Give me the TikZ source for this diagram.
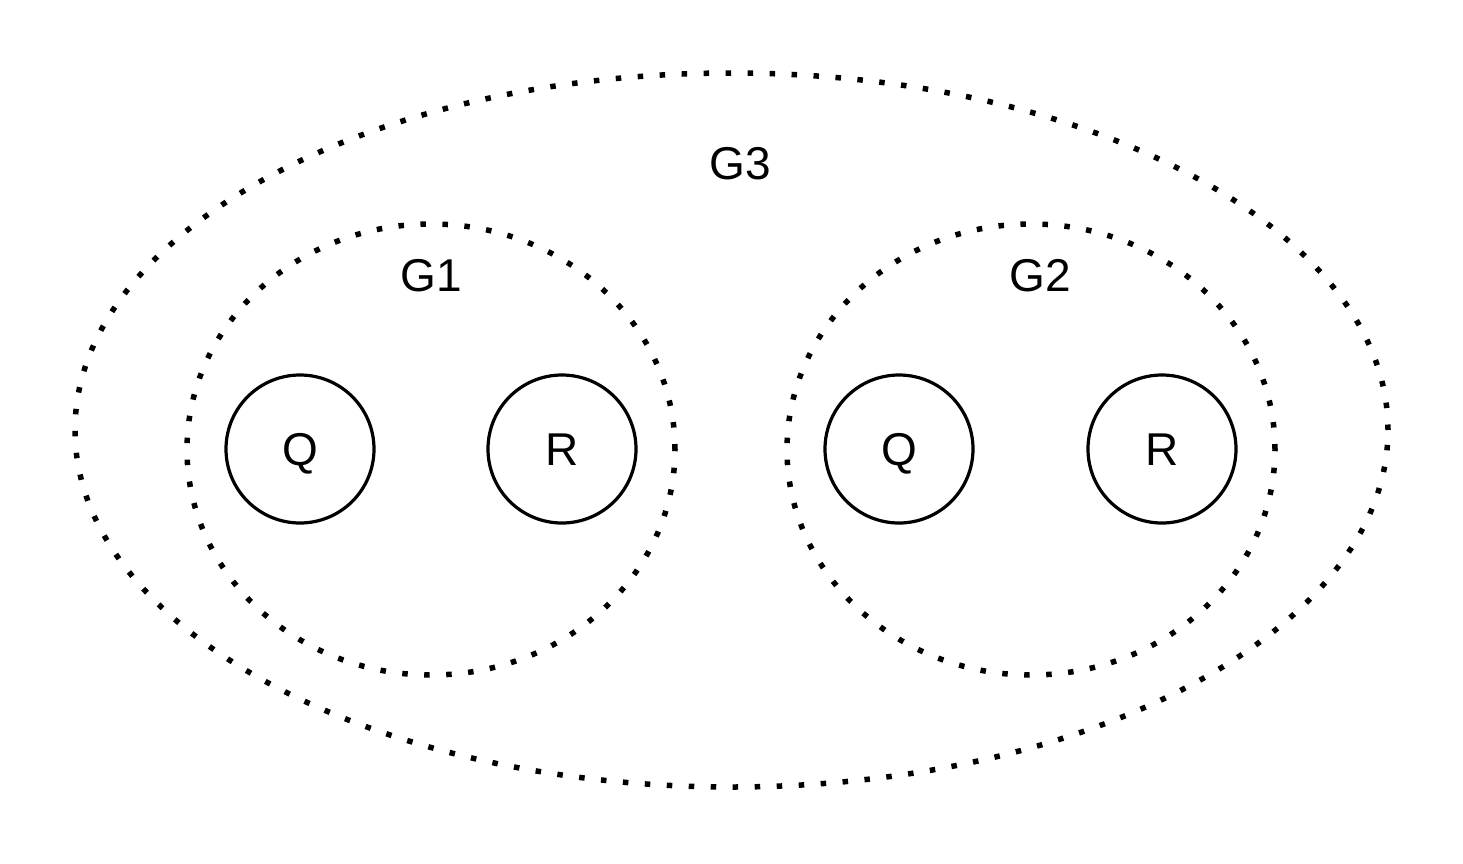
\documentclass[tikz,border=0pt]{standalone}
\usepackage{fontspec}
\setmainfont{Liberation Sans}
\usetikzlibrary{shapes.geometric}
\begin{document}
\begin{tikzpicture}[x=0.5pt,y=-0.5pt,
  grp/.style={draw, ellipse, inner sep=0pt, line width=2.75pt, line cap=butt, dash pattern=on 2.75pt off 8.25pt},
  st/.style={draw, circle, line width=1.6pt, minimum size=74pt, inner sep=0pt, text height=16.5pt, text depth=0pt, font=\fontsize{23}{27}\selectfont},
  lbl/.style={font=\fontsize{23}{27}\selectfont, inner sep=0pt, text height=16.5pt, text depth=0pt}]
\useasboundingbox (0,0) rectangle (1463,863);
\node[grp, minimum width=656.5pt, minimum height=357pt] (G3) at (731.5,430) {};
\node[grp, minimum width=244pt, minimum height=225.5pt] (G1) at (431,449.5) {};
\node[grp, minimum width=244pt, minimum height=225.5pt] (G2) at (1031,449.5) {};
\node[lbl] (l3) at (740,163) {G3};
\node[lbl] (l1) at (431,275) {G1};
\node[lbl] (l2) at (1040,275) {G2};
\node[st] (q1) at (300,449) {Q};
\node[st] (r1) at (562,449) {R};
\node[st] (q2) at (899,449) {Q};
\node[st] (r2) at (1162,449) {R};
\end{tikzpicture}
\end{document}
